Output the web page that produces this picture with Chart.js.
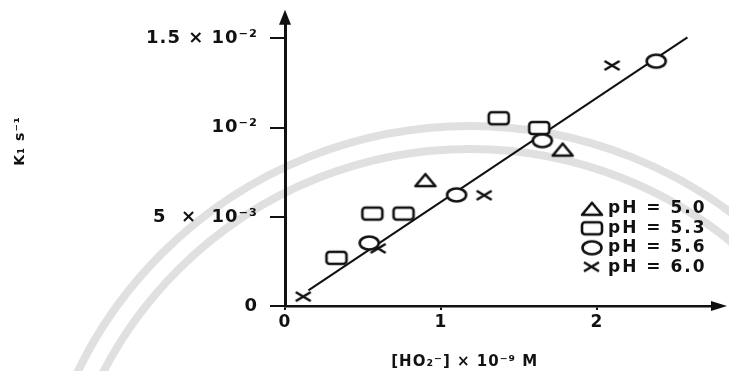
<!DOCTYPE html>
<html>
<head>
<meta charset="utf-8">
<script src="https://cdn.jsdelivr.net/npm/chart.js@4/dist/chart.umd.min.js"></script>
<style>
  html, body { margin: 0; padding: 0; background: #fff; }
</style>
</head>
<body>
<canvas id="chart" width="729" height="371"></canvas>
<script>
// values (x in 1e-9 M, y in s^-1)
const seriesLabels = ['pH = 5.0', 'pH = 5.3', 'pH = 5.6', 'pH = 6.0'];
const ph50X = [0.90, 1.78];
const ph50Y = [0.00706, 0.00877];
const ph53X = [0.33, 0.56, 0.76, 1.37, 1.63];
const ph53Y = [0.00270, 0.00518, 0.00518, 0.01053, 0.00998];
const ph56X = [0.54, 1.10, 1.65, 2.38];
const ph56Y = [0.00353, 0.00623, 0.00927, 0.01373];
const ph60X = [0.12, 0.60, 1.28, 2.10];
const ph60Y = [0.00050, 0.00320, 0.00618, 0.01346];
const fitX = [0.15, 2.58];
const fitY = [0.00088, 0.01506];

const xTicks = [0, 1, 2];
const yTicks = [0, 0.005, 0.01, 0.015];
const yTickLabels = ['0', '5  ×  10⁻³', '10⁻²', '1.5 × 10⁻²'];

const INK = '#111';
const FONT = "'DejaVu Sans', 'Liberation Sans', sans-serif";

const toPoints = (xs, ys) => xs.map((x, i) => ({ x: x, y: ys[i] }));

// hand drawn looking markers, a bit wider than tall like the original
function marker(kind) {
    const c = document.createElement('canvas');
    c.width = 26; c.height = 18;
    const g = c.getContext('2d');
    g.strokeStyle = INK;
    g.fillStyle = '#fff';
    g.lineWidth = 2.6;
    g.lineJoin = 'round';
    g.beginPath();
    if (kind === 'triangle') {
        g.moveTo(13, 3); g.lineTo(23, 15); g.lineTo(3, 15); g.closePath();
    } else if (kind === 'rect') {
        g.roundRect(3, 3, 20, 12, 3);
    } else if (kind === 'ellipse') {
        g.ellipse(13, 9, 9.5, 6.5, 0, 0, Math.PI * 2);
    } else {
        g.moveTo(5, 4); g.lineTo(20, 13);
        g.moveTo(20, 4); g.lineTo(5, 13);
    }
    if (kind !== 'cross') g.fill();
    g.stroke();
    return c;
}

const markerStyles = [marker('triangle'), marker('rect'), marker('ellipse'), marker('cross')];

// faint seal watermark behind the plot
const watermark = {
    id: 'watermark',
    beforeDraw(chart) {
        const ctx = chart.ctx;
        ctx.save();
        ctx.strokeStyle = '#e0e0e0';
        ctx.lineWidth = 8;
        [436, 413].forEach(r => {
            ctx.beginPath();
            ctx.arc(470, 562, r, Math.PI, Math.PI * 2);
            ctx.stroke();
        });
        ctx.restore();
        ctx.letterSpacing = '1px';
    }
};

// arrow heads at the end of both axes
const axisArrows = {
    id: 'axisArrows',
    afterDraw(chart) {
        const { ctx, chartArea } = chart;
        const x0 = chart.scales.x.getPixelForValue(0);
        const y0 = chart.scales.y.getPixelForValue(0);
        ctx.save();
        ctx.fillStyle = INK;
        ctx.beginPath();
        ctx.moveTo(x0, chartArea.top - 13);
        ctx.lineTo(x0 + 6, chartArea.top + 2);
        ctx.lineTo(x0 - 6, chartArea.top + 2);
        ctx.closePath();
        ctx.fill();
        ctx.beginPath();
        ctx.moveTo(chartArea.right + 14, y0);
        ctx.lineTo(chartArea.right - 2, y0 - 5);
        ctx.lineTo(chartArea.right - 2, y0 + 5);
        ctx.closePath();
        ctx.fill();
        ctx.restore();
    }
};

// legend sits inside the plot, lower right
const innerLegend = {
    id: 'innerLegend',
    afterDraw(chart) {
        const ctx = chart.ctx;
        const left = chart.chartArea.right - 121;
        const top = chart.chartArea.top + 186;
        ctx.save();
        ctx.font = 'bold 17px ' + FONT;
        ctx.letterSpacing = '2px';
        ctx.fillStyle = INK;
        ctx.textBaseline = 'middle';
        chart.data.datasets.forEach((ds, i) => {
            if (!ds.label) return;
            const y = top + i * 19.5;
            const img = ds.pointStyle;
            ctx.drawImage(img, left - img.width / 2, y - img.height / 2);
            ctx.fillText(ds.label, left + 16, y);
        });
        ctx.restore();
    }
};

const scatterSet = (i, xs, ys) => ({
    type: 'scatter',
    label: seriesLabels[i],
    data: toPoints(xs, ys),
    pointStyle: markerStyles[i],
    pointRadius: 9,
    order: 0
});

new Chart(document.getElementById('chart'), {
    data: {
        datasets: [
            scatterSet(0, ph50X, ph50Y),
            scatterSet(1, ph53X, ph53Y),
            scatterSet(2, ph56X, ph56Y),
            scatterSet(3, ph60X, ph60Y),
            {
                type: 'line',
                label: '',
                data: toPoints(fitX, fitY),
                borderColor: INK,
                borderWidth: 2,
                pointRadius: 0,
                fill: false,
                order: 1
            }
        ]
    },
    options: {
        responsive: false,
        animation: false,
        layout: { padding: { top: 18, right: 16, left: 0, bottom: 0 } },
        plugins: {
            legend: { display: false },
            tooltip: { enabled: false }
        },
        scales: {
            x: {
                type: 'linear',
                min: 0,
                max: 2.744,
                afterBuildTicks: s => { s.ticks = xTicks.map(v => ({ value: v })); },
                afterFit: s => { s.height = 65; },
                border: { display: true, color: INK, width: 2.5 },
                grid: { drawOnChartArea: false, drawTicks: true, tickLength: 4, color: INK, lineWidth: 2 },
                ticks: {
                    color: INK,
                    padding: 2,
                    font: { family: FONT, size: 17, weight: 'bold' },
                    callback: v => String(v)
                },
                title: {
                    display: true,
                    text: '[HO₂⁻] × 10⁻⁹ M' + '           ',
                    color: INK,
                    font: { family: FONT, size: 15, weight: 'bold' },
                    padding: { top: 0, bottom: 0 }
                }
            },
            y: {
                type: 'linear',
                min: 0,
                max: 0.01588,
                afterBuildTicks: s => { s.ticks = yTicks.map(v => ({ value: v })); },
                afterFit: s => { s.width = 285; },
                border: { display: true, color: INK, width: 3 },
                grid: { drawOnChartArea: false, drawTicks: true, tickLength: 15, color: INK, lineWidth: 2 },
                ticks: {
                    color: INK,
                    padding: 12,
                    font: { family: FONT, size: 18, weight: 'bold' },
                    callback: v => yTickLabels[yTicks.indexOf(v)]
                },
                title: {
                    display: true,
                    text: '        K₁ s⁻¹',
                    color: INK,
                    font: { family: FONT, size: 14, weight: 'bold' },
                    padding: { top: 12, bottom: 0 }
                }
            }
        }
    },
    plugins: [watermark, axisArrows, innerLegend]
});
</script>
</body>
</html>
